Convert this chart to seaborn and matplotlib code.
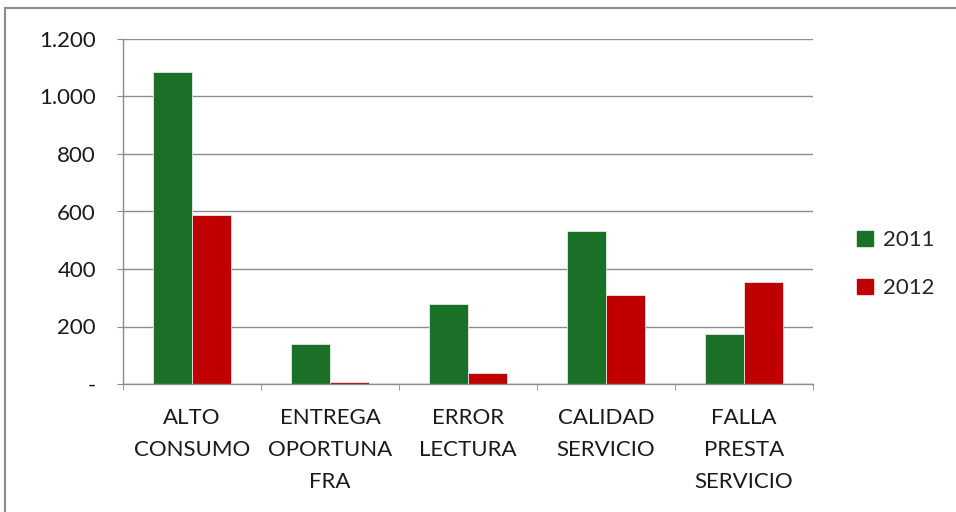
import matplotlib
matplotlib.use("Agg")
import matplotlib.pyplot as plt
import matplotlib.patches as mpatches
from matplotlib.ticker import FuncFormatter, FixedLocator
import seaborn as sns
import pandas as pd

categories = ["ALTO\nCONSUMO", "ENTREGA\nOPORTUNA\nFRA", "ERROR\nLECTURA",
              "CALIDAD\nSERVICIO", "FALLA\nPRESTA\nSERVICIO"]
values_2011 = [1085, 139, 277, 531, 175]
values_2012 = [589, 6, 37, 308, 354]
years = ["2011", "2012"]

df = pd.DataFrame({
    "categoria": categories * 2,
    "valor": values_2011 + values_2012,
    "anio": [years[0]] * len(categories) + [years[1]] * len(categories),
})

sns.set_style("white")
plt.rcParams["font.family"] = ["Lato", "DejaVu Sans"]

fig = plt.figure(figsize=(9.56, 5.12), dpi=100)
ax = fig.add_axes([123 / 956, 1 - 384 / 512, 690 / 956, 345 / 512])

palette = {"2011": "#1B7028", "2012": "#C00000"}
sns.barplot(data=df, x="categoria", y="valor", hue="anio", palette=palette,
            width=0.56, saturation=1, edgecolor="#e8e8e8", linewidth=0.6, ax=ax)

ax.set_ylim(0, 1200)
ax.set_xlim(-0.5, 4.5)
ax.set_yticks(range(0, 1201, 200))
ax.yaxis.set_major_formatter(FuncFormatter(
    lambda v, p: "-" if v == 0 else f"{int(v):,}".replace(",", ".")))
ax.grid(axis="y", color="#8c8c8c", linewidth=1)
ax.set_axisbelow(True)
ax.set_xlabel("")
ax.set_ylabel("")

for s in ["top", "right"]:
    ax.spines[s].set_visible(False)
for s in ["left", "bottom"]:
    ax.spines[s].set_color("#8c8c8c")
    ax.spines[s].set_linewidth(1)

ax.tick_params(axis="y", length=4.5, color="#8c8c8c", labelsize=16, pad=15,
               labelcolor="#1a1a1a", left=True)
ax.tick_params(axis="x", which="major", length=0, labelsize=16, pad=17,
               labelcolor="#1a1a1a")
ax.xaxis.set_minor_locator(FixedLocator([-0.5, 0.5, 1.5, 2.5, 3.5, 4.5]))
ax.tick_params(axis="x", which="minor", length=4.5, color="#8c8c8c", bottom=True)
for lbl in ax.get_xticklabels():
    lbl.set_linespacing(1.75)

handles = [mpatches.Patch(color=palette[y], label=y) for y in years]
ax.legend(handles=handles, loc="center left", bbox_to_anchor=(1.035, 0.347),
          frameon=False, fontsize=16, handlelength=0.7, handleheight=0.7,
          handletextpad=0.45, labelspacing=1.25)

fig.patches.append(mpatches.Rectangle((5 / 956, -0.02), 1.1, 1 - 8 / 512 + 0.02,
                                      transform=fig.transFigure, fill=False,
                                      edgecolor="#8c8c8c", linewidth=1.5))

fig.savefig("out.png", dpi=100)
